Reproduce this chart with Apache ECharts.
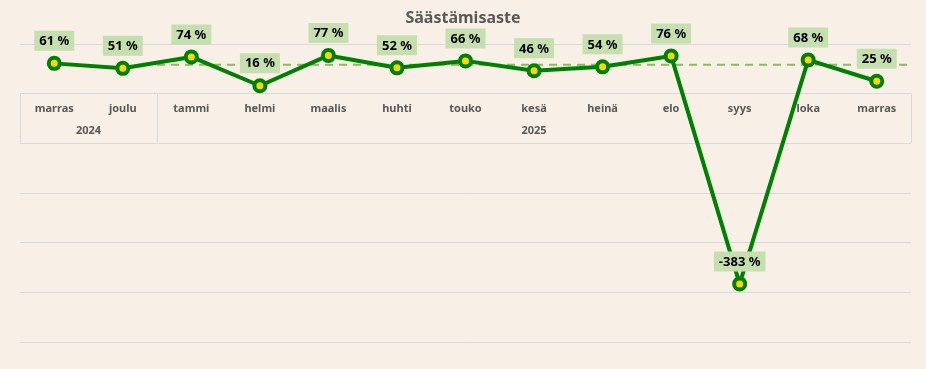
<!DOCTYPE html>
<html><head><meta charset="utf-8">
<script src="https://cdn.jsdelivr.net/npm/echarts@6/dist/echarts.min.js"></script>
<style>html,body{margin:0;padding:0;background:#f8f0e6;}#c{width:926px;height:369px;}</style>
</head><body><div id="c"></div>
<script>
const months = ['marras','joulu','tammi','helmi','maalis','huhti','touko','kesä','heinä','elo','syys','loka','marras'];
const values = [61, 51, 74, 16, 77, 52, 66, 46, 54, 76, -383, 68, 25];
const years = ['2024', '2025'];
const yearSpans = [[0, 2], [2, 13]];
const refLevel = 58;
const refSpan = [2, 13];

const Y_MIN = -500, Y_MAX = 100;
const GRID = { left: 20, right: 15, top: 44, bottom: 27 };
const gridH = 369 - GRID.top - GRID.bottom;
const zeroOffset = -gridH * (0 - Y_MIN) / (Y_MAX - Y_MIN);

const chart = echarts.init(document.getElementById('c'));
const font = '"Noto Sans", sans-serif';
chart.setOption({
  backgroundColor: '#f8f0e6',
  animation: false,
  title: { text: 'Säästämisaste', left: 'center', top: 5,
    textStyle: { fontFamily: font, fontSize: 16, fontWeight: 'bold', color: '#595959' } },
  grid: Object.assign({ outerBoundsMode: 'none', containLabel: false }, GRID),
  xAxis: [
    { type: 'category', data: months, boundaryGap: true, position: 'bottom', offset: zeroOffset,
      axisLine: { show: false, onZero: false }, axisTick: { show: false },
      axisLabel: { margin: 10, fontFamily: font, fontSize: 11, fontWeight: 'bold', color: '#595959' } },
    { type: 'value', min: 0, max: 13, position: 'bottom', offset: zeroOffset,
      axisLine: { show: false, onZero: false },
      splitLine: { show: false },
      axisTick: { show: true, customValues: [yearSpans[0][0], yearSpans[0][1], yearSpans[1][1]], length: 49,
        lineStyle: { color: '#d9d9d9', width: 1 } },
      axisLabel: { customValues: yearSpans.map(s => (s[0] + s[1]) / 2), margin: 32,
        formatter: v => (v < yearSpans[0][1] ? years[0] : years[1]),
        fontFamily: font, fontSize: 11, fontWeight: 'bold', color: '#595959' } }
  ],
  yAxis: { type: 'value', min: Y_MIN, max: Y_MAX, interval: 100,
    axisLabel: { show: false }, axisLine: { show: false }, axisTick: { show: false },
    splitLine: { lineStyle: { color: '#d9d9d9', width: 1 } } },
  series: [
    { type: 'line', xAxisIndex: 1, data: [[refSpan[0], refLevel], [refSpan[1], refLevel]],
      symbol: 'none', z: 1, silent: true,
      lineStyle: { color: '#84bd5c', width: 2, type: [8, 6] } },
    { type: 'line', xAxisIndex: 0, data: values, z: 3,
      symbol: 'circle', symbolSize: 11,
      lineStyle: { color: '#008000', width: 4 },
      itemStyle: { color: '#ffd700', borderColor: '#008000', borderWidth: 4 },
      label: { show: true, position: 'top', distance: 5,
        formatter: p => p.value + ' %',
        fontFamily: font, fontSize: 13, fontWeight: 'bold', color: '#000',
        backgroundColor: '#c5dfae', padding: [4, 5, 3, 5] } }
  ]
});
</script></body></html>
